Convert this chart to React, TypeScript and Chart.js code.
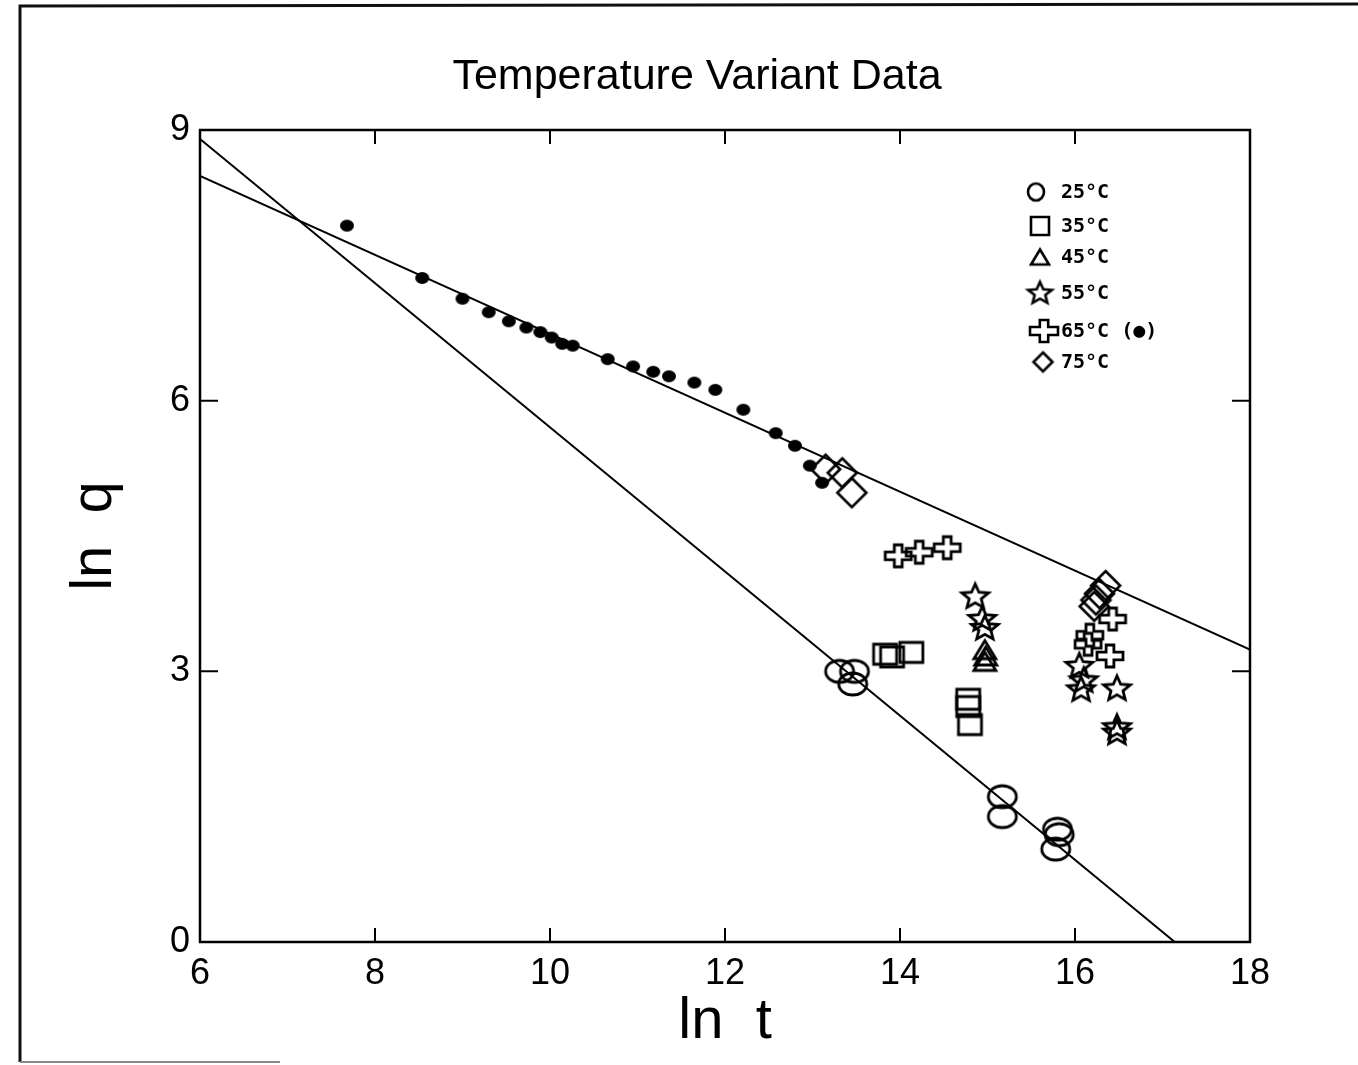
import React, { useEffect, useRef } from "react";
import { Chart, registerables } from "chart.js";

Chart.register(...registerables);

// ---------- texts ----------
const CHART_TITLE = "Temperature Variant Data";
const X_TITLE = "ln  t";
const Y_TITLE = "ln  q";
const legendLabels = ["25°C", "35°C", "45°C", "55°C", "65°C (●)", "75°C"];

// ---------- ticks ----------
const xTickValues = [6, 8, 10, 12, 14, 16, 18];
const yTickValues = [0, 3, 6, 9];

// ---------- data ----------
const t25X = [13.31, 13.48, 13.46, 15.17, 15.17, 15.8, 15.82, 15.78];
const t25Y = [3.0, 3.0, 2.86, 1.61, 1.39, 1.25, 1.19, 1.03];

const t35X = [13.83, 13.91, 14.13, 14.78, 14.78, 14.8];
const t35Y = [3.19, 3.16, 3.21, 2.69, 2.61, 2.41];

const t45X = [14.97, 14.98, 14.97];
const t45Y = [3.24, 3.17, 3.11];

const t55X = [14.86, 14.94, 14.97, 16.05, 16.1, 16.07, 16.48, 16.48, 16.48];
const t55Y = [3.83, 3.58, 3.48, 3.06, 2.9, 2.8, 2.81, 2.38, 2.32];

const t65X = [13.98, 14.22, 14.54, 16.43, 16.17, 16.15, 16.4];
const t65Y = [4.28, 4.32, 4.37, 3.58, 3.4, 3.3, 3.17];

const t75X = [13.15, 13.34, 13.45, 16.35, 16.28, 16.24, 16.22];
const t75Y = [5.24, 5.2, 4.98, 3.95, 3.86, 3.79, 3.72];

const dots65X = [7.68, 8.54, 9.0, 9.3, 9.53, 9.73, 9.89, 10.02, 10.14, 10.26, 10.66, 10.95, 11.18, 11.36, 11.65, 11.89, 12.21, 12.58, 12.8, 12.97, 13.11];
const dots65Y = [7.94, 7.36, 7.13, 6.98, 6.88, 6.81, 6.76, 6.7, 6.63, 6.61, 6.46, 6.38, 6.32, 6.27, 6.2, 6.12, 5.9, 5.64, 5.5, 5.28, 5.09];

const steepFitX = [6, 17.14];
const steepFitY = [8.9, 0];
const shallowFitX = [6, 18];
const shallowFitY = [8.49, 3.24];

// ---------- marker drawing ----------
type Kind = "ellipse" | "rect" | "triangle" | "star" | "plus" | "diamond" | "dot";

function makeMarker(kind: Kind, w: number, h: number, lw: number): HTMLCanvasElement {
  const pad = Math.ceil(lw) + 2;
  const c = document.createElement("canvas");
  c.width = Math.round(w + pad * 2);
  c.height = Math.round(h + pad * 2);
  const ctx = c.getContext("2d")!;
  ctx.strokeStyle = "#000";
  ctx.fillStyle = "#000";
  ctx.lineWidth = lw;
  ctx.lineJoin = "miter";
  const cx = c.width / 2;
  const cy = c.height / 2;
  const W = w / 2;
  const H = h / 2;
  ctx.beginPath();
  if (kind === "ellipse") {
    ctx.ellipse(cx, cy, W, H, 0, 0, Math.PI * 2);
  } else if (kind === "rect") {
    ctx.rect(cx - W, cy - H, w, h);
  } else if (kind === "triangle") {
    ctx.moveTo(cx, cy - H);
    ctx.lineTo(cx + W, cy + H);
    ctx.lineTo(cx - W, cy + H);
    ctx.closePath();
  } else if (kind === "diamond") {
    ctx.moveTo(cx, cy - H);
    ctx.lineTo(cx + W, cy);
    ctx.lineTo(cx, cy + H);
    ctx.lineTo(cx - W, cy);
    ctx.closePath();
  } else if (kind === "star") {
    const R = W;
    const r = R * 0.45;
    for (let i = 0; i < 10; i++) {
      const a = -Math.PI / 2 + (i * Math.PI) / 5;
      const rr = i % 2 === 0 ? R : r;
      const px = cx + rr * Math.cos(a);
      const py = cy + 0.5 + rr * Math.sin(a) * (H / W);
      if (i === 0) ctx.moveTo(px, py);
      else ctx.lineTo(px, py);
    }
    ctx.closePath();
  } else if (kind === "plus") {
    const tx = H * 0.36;
    const ty = W * 0.3;
    const pts = [
      [-ty, -H], [ty, -H], [ty, -tx], [W, -tx], [W, tx], [ty, tx],
      [ty, H], [-ty, H], [-ty, tx], [-W, tx], [-W, -tx], [-ty, -tx],
    ];
    pts.forEach(([px, py], i) => {
      if (i === 0) ctx.moveTo(cx + px, cy + py);
      else ctx.lineTo(cx + px, cy + py);
    });
    ctx.closePath();
  } else if (kind === "dot") {
    ctx.ellipse(cx, cy, W, H, 0, 0, Math.PI * 2);
    ctx.fill();
    return c;
  }
  ctx.stroke();
  return c;
}

const zip = (xs: number[], ys: number[]) => xs.map((x, i) => ({ x, y: ys[i] }));

const seriesDefs: { label: string; xs: number[]; ys: number[]; kind: Kind; w: number; h: number; lw: number; lw2: number; lh2: number }[] = [
  { label: legendLabels[0], xs: t25X, ys: t25Y, kind: "ellipse", w: 28, h: 22, lw: 2.8, lw2: 16, lh2: 17 },
  { label: legendLabels[1], xs: t35X, ys: t35Y, kind: "rect", w: 23, h: 20, lw: 2.8, lw2: 18, lh2: 18 },
  { label: legendLabels[2], xs: t45X, ys: t45Y, kind: "triangle", w: 22, h: 18, lw: 2.8, lw2: 18, lh2: 15 },
  { label: legendLabels[3], xs: t55X, ys: t55Y, kind: "star", w: 28, h: 26, lw: 2.8, lw2: 25, lh2: 23 },
  { label: legendLabels[4], xs: t65X, ys: t65Y, kind: "plus", w: 26, h: 22, lw: 2.8, lw2: 28, lh2: 22 },
  { label: legendLabels[5], xs: t75X, ys: t75Y, kind: "diamond", w: 29, h: 29, lw: 2.6, lw2: 19, lh2: 19 },
];

// layout constants
const CW = 1358;
const CH = 1065;
const LEFT = 200;
const TOP = 130;
const RIGHT_PAD = 108;
const BOTTOM_H = 123;

export default function App() {
  const ref = useRef<HTMLCanvasElement | null>(null);

  useEffect(() => {
    if (!ref.current) return;

    const legendImages = seriesDefs.map((s) => makeMarker(s.kind, s.lw2, s.lh2, 2.6));
    const legendCenters = [
      [1036, 192], [1040, 226], [1040, 257], [1040, 293], [1044, 331], [1043, 362],
    ];

    const decor = {
      id: "decor",
      beforeDraw(chart: any) {
        const ctx = chart.ctx;
        ctx.save();
        ctx.fillStyle = "#fff";
        ctx.fillRect(0, 0, chart.width, chart.height);
        // page frame (scan border)
        ctx.strokeStyle = "#111";
        ctx.lineWidth = 3;
        ctx.beginPath();
        ctx.moveTo(20, 1062);
        ctx.lineTo(20, 6);
        ctx.lineTo(CW, 4);
        ctx.stroke();
        ctx.strokeStyle = "#888";
        ctx.lineWidth = 2;
        ctx.beginPath();
        ctx.moveTo(20, 1062);
        ctx.lineTo(280, 1062);
        ctx.stroke();
        // title
        ctx.fillStyle = "#000";
        ctx.font = '43px "Liberation Sans"';
        ctx.textAlign = "center";
        ctx.textBaseline = "alphabetic";
        ctx.fillText(CHART_TITLE, 697, 89);
        ctx.restore();
      },
      afterDraw(chart: any) {
        const ctx = chart.ctx;
        const a = chart.chartArea;
        const xs = chart.scales.x;
        const ys = chart.scales.y;
        ctx.save();
        ctx.strokeStyle = "#000";
        ctx.lineWidth = 2.5;
        ctx.strokeRect(a.left, a.top, a.right - a.left, a.bottom - a.top);
        ctx.lineWidth = 2;
        ctx.beginPath();
        xTickValues.forEach((v) => {
          const px = xs.getPixelForValue(v);
          ctx.moveTo(px, a.bottom);
          ctx.lineTo(px, a.bottom - 14);
          ctx.moveTo(px, a.top);
          ctx.lineTo(px, a.top + 14);
        });
        yTickValues.forEach((v) => {
          const py = ys.getPixelForValue(v);
          ctx.moveTo(a.left, py);
          ctx.lineTo(a.left + 18, py);
          ctx.moveTo(a.right, py);
          ctx.lineTo(a.right - 18, py);
        });
        ctx.stroke();

        // legend
        ctx.fillStyle = "#000";
        ctx.font = 'bold 20px "DejaVu Sans Mono"';
        ctx.textBaseline = "middle";
        ctx.textAlign = "left";
        seriesDefs.forEach((s, i) => {
          const img = legendImages[i];
          const [cx, cy] = legendCenters[i];
          ctx.drawImage(img, cx - img.width / 2, cy - img.height / 2);
          ctx.fillText(s.label, 1061, cy + 1);
        });
        ctx.restore();
      },
    };

    const datasets: any[] = [
      {
        label: "fit-steep",
        data: zip(steepFitX, steepFitY),
        showLine: true,
        borderColor: "#000",
        borderWidth: 2,
        pointRadius: 0,
        fill: false,
      },
      {
        label: "fit-shallow",
        data: zip(shallowFitX, shallowFitY),
        showLine: true,
        borderColor: "#000",
        borderWidth: 2,
        pointRadius: 0,
        fill: false,
      },
      {
        label: "65°C dots",
        data: zip(dots65X, dots65Y),
        pointStyle: makeMarker("dot", 14, 12, 1),
        pointRadius: 5,
      },
      ...seriesDefs.map((s) => ({
        label: s.label,
        data: zip(s.xs, s.ys),
        pointStyle: makeMarker(s.kind, s.w, s.h, s.lw),
        pointRadius: 5,
      })),
    ];

    const chart = new Chart(ref.current, {
      type: "scatter",
      data: { datasets },
      options: {
        animation: false,
        responsive: false,
        devicePixelRatio: 1,
        layout: { padding: { left: 0, right: RIGHT_PAD, top: TOP, bottom: 0 } },
        plugins: {
          legend: { display: false },
          tooltip: { enabled: false },
          title: { display: false },
        },
        scales: {
          x: {
            type: "linear",
            min: 6,
            max: 18,
            afterBuildTicks: (scale: any) => {
              scale.ticks = xTickValues.map((v) => ({ value: v }));
            },
            afterFit: (scale: any) => {
              scale.height = BOTTOM_H;
            },
            grid: { display: false, drawTicks: false },
            border: { display: false },
            ticks: {
              color: "#000",
              padding: 10,
              maxRotation: 0,
              font: { family: '"Liberation Sans"', size: 36 },
            },
            title: {
              display: true,
              text: X_TITLE,
              color: "#000",
              font: { family: '"Liberation Sans"', size: 58, lineHeight: 1.2 },
              padding: { top: 0, bottom: 8 },
            },
          },
          y: {
            type: "linear",
            min: 0,
            max: 9,
            afterBuildTicks: (scale: any) => {
              scale.ticks = yTickValues.map((v) => ({ value: v }));
            },
            afterFit: (scale: any) => {
              scale.width = LEFT;
            },
            grid: { display: false, drawTicks: false },
            border: { display: false },
            ticks: {
              color: "#000",
              padding: 10,
              font: { family: '"Liberation Sans"', size: 36 },
            },
            title: {
              display: true,
              text: Y_TITLE,
              color: "#000",
              font: { family: '"Liberation Sans"', size: 58, lineHeight: 1.2 },
              padding: { top: 60, bottom: 0 },
            },
          },
        },
      },
      plugins: [decor],
    } as any);

    return () => chart.destroy();
  }, []);

  return (
    <div style={{ position: "absolute", left: 0, top: 0, width: CW, height: CH, background: "#fff" }}>
      <canvas ref={ref} width={CW} height={CH} style={{ width: CW, height: CH, display: "block" }} />
    </div>
  );
}
